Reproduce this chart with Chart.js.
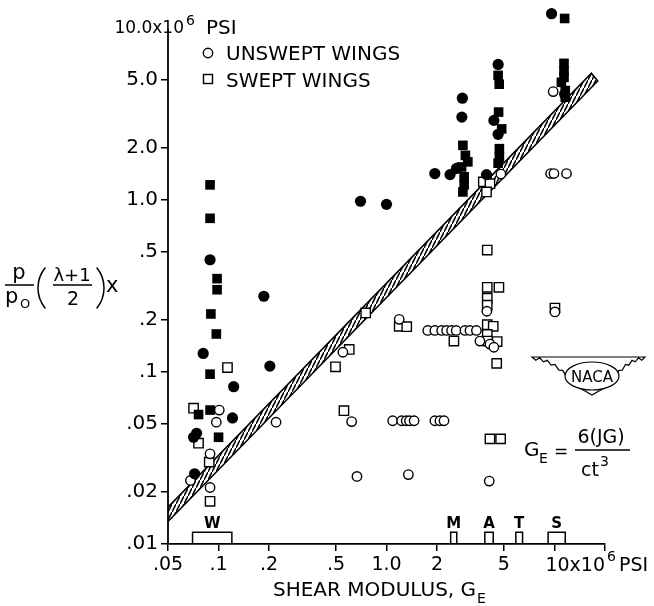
<!DOCTYPE html>
<html>
<head>
<meta charset="utf-8">
<script src="https://cdn.jsdelivr.net/npm/chart.js@4"></script>
<style>
  html, body { margin: 0; padding: 0; background: #fff; }
  #grafico { display: block; }
</style>
</head>
<body>
<canvas id="grafico" width="654" height="606"></canvas>
<script>
// ticks de los ejes (escala log)
const xTicks = [0.05, 0.1, 0.2, 0.5, 1, 2, 5, 10, 20];
const xTickLabels = [".05", ".1", ".2", ".5", "1.0", "2", "5", "", ""];
const yTicks = [0.01, 0.02, 0.05, 0.1, 0.2, 0.5, 1, 2, 5];
const yTickLabels = [".01", ".02", ".05", ".1", ".2", ".5", "1.0", "2.0", "5.0"];
const yAxisTop = 10; // el eje y termina en 10.0x10^6 PSI

// unswept wings (circulos abiertos)
const unsweptX = [0.101, 0.097, 0.089, 0.068, 0.089, 0.22, 0.55, 0.62, 0.667, 1.19,
  1.76, 1.94, 2.13, 2.28, 2.44, 2.60, 2.93, 3.14, 3.43, 3.60, 4.13, 4.36, 3.96,
  1.088, 1.23, 1.31, 1.37, 1.46, 1.94, 2.08, 2.20, 1.35, 4.09, 4.80, 9.49, 9.93, 11.8, 9.83, 10.07];
const unsweptY = [0.060, 0.051, 0.0334, 0.0234, 0.0213, 0.051, 0.130, 0.0514, 0.0247, 0.202,
  0.174, 0.174, 0.174, 0.174, 0.174, 0.174, 0.174, 0.174, 0.174, 0.151, 0.145, 0.139, 0.225,
  0.052, 0.052, 0.052, 0.052, 0.052, 0.052, 0.052, 0.052, 0.0253, 0.0232, 1.41, 1.42, 1.42, 1.42, 4.25, 0.223];

// swept wings (cuadrados abiertos)
const sweptX = [0.071, 0.076, 0.113, 0.088, 0.089, 0.497, 0.60, 0.558, 0.752, 1.19, 1.32, 2.52,
  3.98, 3.98, 4.67, 3.98, 3.98, 3.98, 4.32, 3.98, 4.0, 4.56, 4.53, 4.13, 4.78, 10.07, 3.77, 4.13, 3.94];
const sweptY = [0.0615, 0.0385, 0.106, 0.0299, 0.0177, 0.107, 0.135, 0.0595, 0.22, 0.184, 0.183, 0.151,
  0.51, 0.31, 0.31, 0.268, 0.244, 0.188, 0.184, 0.165, 0.151, 0.150, 0.112, 0.0408, 0.0408, 0.235, 1.27, 1.24, 1.11];

// simbolos rellenos (circulos)
const filledCircX = [0.089, 0.081, 0.123, 0.121, 0.071, 0.074, 0.072, 0.186, 0.202, 0.70, 1.0,
  2.83, 2.81, 1.94, 2.39, 2.61, 3.94, 4.62, 4.36, 4.62, 9.61, 11.5];
const filledCircY = [0.448, 0.128, 0.082, 0.054, 0.0417, 0.044, 0.0256, 0.275, 0.108, 0.98, 0.94,
  3.89, 3.02, 1.42, 1.40, 1.52, 1.40, 6.11, 2.89, 2.40, 12.05, 4.1];

// simbolos rellenos (cuadrados)
const filledSqX = [0.089, 0.089, 0.098, 0.098, 0.090, 0.097, 0.089, 0.076, 0.089, 0.100,
  2.85, 2.95, 3.05, 2.80, 2.90, 2.90, 2.85,
  4.62, 4.69, 4.65, 4.85, 4.70, 4.70, 4.62,
  11.5, 11.4, 11.4, 11.4, 11.0, 11.6, 11.6];
const filledSqY = [1.22, 0.78, 0.348, 0.30, 0.217, 0.166, 0.097, 0.0565, 0.060, 0.0417,
  2.07, 1.81, 1.66, 1.55, 1.36, 1.22, 1.11,
  5.28, 4.69, 3.23, 2.58, 1.98, 1.77, 1.63,
  11.3, 6.2, 5.6, 5.14, 4.81, 4.31, 3.94];

// banda rayada (contorno)
const bandX = [0.05, 16.6, 18.1, 0.05];
const bandY = [0.01635, 5.43, 4.9, 0.0135];

// rangos de materiales sobre el eje x
const matNames = ["W", "M", "A", "T", "S"];
const matFrom = [0.070, 2.41, 3.85, 5.89, 9.17];
const matTo = [0.120, 2.62, 4.32, 6.46, 11.6];
const matTop = 0.0117;

const FONT = '"DejaVu Sans"';
const pts = (xs, ys) => xs.map((x, i) => ({ x: x, y: ys[i] }));

// patron de rayado para la banda
const tile = document.createElement("canvas");
tile.width = 4;
tile.height = 8;
const tc = tile.getContext("2d");
tc.fillStyle = "#fff";
tc.fillRect(0, 0, 4, 8);
tc.strokeStyle = "#000";
tc.lineWidth = 1.5;
tc.beginPath();
tc.moveTo(-1, 10);
tc.lineTo(5, -2);
tc.stroke();
const hatch = document.getElementById("grafico").getContext("2d").createPattern(tile, "repeat");

const matDatasets = matNames.map((n, i) => ({
	label: n,
	data: [
		{ x: matFrom[i], y: 0.01 },
		{ x: matFrom[i], y: matTop },
		{ x: matTo[i], y: matTop },
		{ x: matTo[i], y: 0.01 },
	],
	showLine: true,
	borderColor: "#000",
	borderWidth: 1.5,
	pointRadius: 0,
	fill: false,
	order: 5,
}));

function txt(ctx, s, x, y, size, align, weight) {
	ctx.font = (weight || "normal") + " " + size + "px " + FONT;
	ctx.textAlign = align || "left";
	ctx.textBaseline = "alphabetic";
	ctx.fillText(s, x, y);
}

const extras = {
	id: "extras",
	afterDatasetsDraw(chart) {
		// linea del eje y, solo hasta 10
		const ctx = chart.ctx;
		const ys = chart.scales.y;
		const xl = chart.chartArea.left;
		ctx.save();
		ctx.strokeStyle = "#000";
		ctx.lineWidth = 1.8;
		ctx.beginPath();
		ctx.moveTo(xl, ys.getPixelForValue(yAxisTop) + 2);
		ctx.lineTo(xl, chart.chartArea.bottom);
		ctx.stroke();
		ctx.restore();
	},
	afterDraw(chart) {
		const ctx = chart.ctx;
		const xs = chart.scales.x;
		const ys = chart.scales.y;
		ctx.save();
		ctx.fillStyle = "#000";
		ctx.strokeStyle = "#000";

		// etiqueta superior del eje y
		const yTop = ys.getPixelForValue(yAxisTop);
		txt(ctx, "10.0x10", 184, yTop + 5, 17, "right");
		txt(ctx, "6", 186, yTop - 3, 14);
		txt(ctx, "PSI", 206, yTop + 6, 20);

		// etiqueta final del eje x
		const x10 = xs.getPixelForValue(10);
		txt(ctx, "10x10", x10 - 9, 571, 19);
		let w = ctx.measureText("10x10").width;
		txt(ctx, "6", x10 - 9 + w + 2, 561, 14);
		txt(ctx, "PSI", x10 - 9 + w + 14, 571, 19);

		// titulo eje x
		txt(ctx, "SHEAR MODULUS, G", 273, 596, 20);
		w = ctx.measureText("SHEAR MODULUS, G").width;
		txt(ctx, "E", 273 + w + 1, 603, 14);

		// titulo eje y
		txt(ctx, "p", 19, 279, 21, "center");
		ctx.lineWidth = 1.5;
		ctx.beginPath();
		ctx.moveTo(5, 285); ctx.lineTo(34, 285);
		ctx.moveTo(53, 285); ctx.lineTo(92, 285);
		ctx.stroke();
		txt(ctx, "p", 5, 303, 21);
		txt(ctx, "O", 20, 308, 13);
		ctx.beginPath();
		ctx.arc(70, 288, 32, Math.PI * 0.78, Math.PI * 1.22);
		ctx.stroke();
		ctx.beginPath();
		ctx.arc(72, 288, 32, -Math.PI * 0.22, Math.PI * 0.22);
		ctx.stroke();
		txt(ctx, "\u03bb+1", 72, 281, 18, "center");
		txt(ctx, "2", 73, 305, 19, "center");
		txt(ctx, "x", 106, 292, 21);

		// leyenda
		ctx.lineWidth = 1.4;
		ctx.beginPath();
		ctx.arc(208, 53, 4.7, 0, Math.PI * 2);
		ctx.stroke();
		ctx.strokeRect(203.5, 74.5, 9, 9);
		ctx.fillStyle = "#000";
		txt(ctx, "UNSWEPT WINGS", 226, 60, 20);
		txt(ctx, "SWEPT WINGS", 226, 87, 20);

		// letras de materiales
		matNames.forEach((n, i) => {
			const cx = xs.getPixelForValue(Math.sqrt(matFrom[i] * matTo[i]));
			txt(ctx, n, cx, ys.getPixelForValue(matTop) - 4, 15, "center", "bold");
		});

		// formula
		txt(ctx, "G", 524, 456, 20);
		txt(ctx, "E", 539, 463, 14);
		txt(ctx, "=", 554, 457, 17);
		txt(ctx, "6(JG)", 601, 443, 19, "center");
		ctx.lineWidth = 1.5;
		ctx.beginPath();
		ctx.moveTo(575, 450); ctx.lineTo(630, 450);
		ctx.stroke();
		txt(ctx, "ct", 590, 476, 19, "center");
		txt(ctx, "3", 600, 466, 14);

		// emblema NACA
		ctx.lineWidth = 1.2;
		ctx.fillStyle = "#fff";
		ctx.beginPath();
		ctx.moveTo(532, 357);
		ctx.lineTo(645, 357);
		for (let i = 1; i <= 12; i++) {
			const t = i / 12;
			const px = 645 - (645 - 606) * t;
			const py = 357 + 30 * t * t + (i % 2 ? 3 : 0);
			ctx.lineTo(px, py);
		}
		ctx.lineTo(592, 395);
		for (let i = 12; i >= 1; i--) {
			const t = i / 12;
			const px = 532 + (578 - 532) * t;
			const py = 357 + 30 * t * t + (i % 2 ? 3 : 0);
			ctx.lineTo(px, py);
		}
		ctx.closePath();
		ctx.fill();
		ctx.stroke();
		ctx.beginPath();
		ctx.ellipse(592, 376, 27, 14, 0, 0, Math.PI * 2);
		ctx.fill();
		ctx.stroke();
		ctx.fillStyle = "#000";
		txt(ctx, "NACA", 592, 382, 15, "center");
		ctx.restore();
	},
};

const config = {
	type: "scatter",
	data: {
		datasets: [
			{
				label: "UNSWEPT WINGS",
				data: pts(unsweptX, unsweptY),
				pointStyle: "circle",
				pointRadius: 4.7,
				backgroundColor: "#fff",
				borderColor: "#000",
				borderWidth: 1.4,
				clip: false,
				order: 1,
			},
			{
				label: "SWEPT WINGS",
				data: pts(sweptX, sweptY),
				pointStyle: "rect",
				pointRadius: 6.6,
				backgroundColor: "#fff",
				borderColor: "#000",
				borderWidth: 1.4,
				clip: false,
				order: 1,
			},
			{
				label: "filled circles",
				data: pts(filledCircX, filledCircY),
				pointStyle: "circle",
				pointRadius: 5.6,
				backgroundColor: "#000",
				borderColor: "#000",
				borderWidth: 0,
				clip: false,
				order: 0,
			},
			{
				label: "filled squares",
				data: pts(filledSqX, filledSqY),
				pointStyle: "rect",
				pointRadius: 6.8,
				backgroundColor: "#000",
				borderColor: "#000",
				borderWidth: 0,
				clip: false,
				order: 0,
			},
			{
				label: "band",
				data: pts(bandX, bandY),
				showLine: true,
				fill: "shape",
				backgroundColor: hatch,
				borderColor: "#000",
				borderWidth: 1.6,
				pointRadius: 0,
				order: 10,
			},
			...matDatasets,
		],
	},
	options: {
		responsive: false,
		animation: false,
		devicePixelRatio: 1,
		layout: { padding: { top: 5, right: 49, left: 0, bottom: 0 } },
		plugins: {
			legend: { display: false },
			tooltip: { enabled: false },
		},
		scales: {
			x: {
				type: "logarithmic",
				min: 0.05,
				max: 20,
				afterBuildTicks: (s) => { s.ticks = xTicks.map((v) => ({ value: v })); },
				afterFit: (s) => { s.height = 62; s.paddingLeft = 0; s.paddingRight = 0; },
				ticks: {
					autoSkip: false,
					maxRotation: 0,
					padding: 3,
					color: "#000",
					font: { family: FONT, size: 19 },
					callback: (v) => xTickLabels[xTicks.indexOf(v)] ?? "",
				},
				grid: { drawOnChartArea: false, tickLength: 7, color: "#000", lineWidth: 1.5 },
				border: { color: "#000", width: 1.8, z: 1 },
			},
			y: {
				type: "logarithmic",
				min: 0.01,
				max: 13,
				afterBuildTicks: (s) => { s.ticks = yTicks.map((v) => ({ value: v })); },
				afterFit: (s) => { s.width = 168; s.paddingTop = 0; s.paddingBottom = 0; },
				ticks: {
					autoSkip: false,
					padding: 3,
					color: "#000",
					font: { family: FONT, size: 20 },
					callback: (v) => yTickLabels[yTicks.indexOf(v)] ?? "",
				},
				grid: { drawOnChartArea: false, tickLength: 7, color: "#000", lineWidth: 1.5 },
				border: { display: false },
			},
		},
	},
	plugins: [extras],
};

new Chart(document.getElementById("grafico"), config);
</script>
</body>
</html>
